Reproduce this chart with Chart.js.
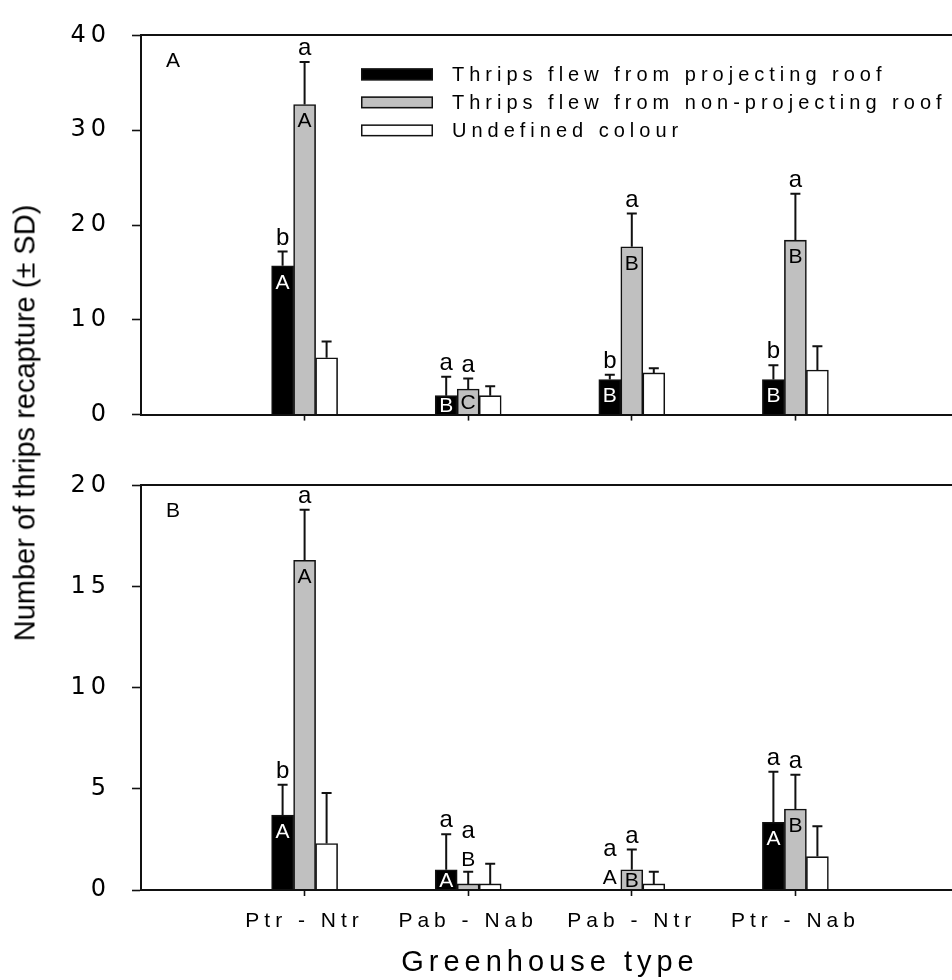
<!DOCTYPE html>
<html lang="en">
<head>
  <meta charset="UTF-8" />
  <title>Thrips recapture by greenhouse type</title>
  <script src="https://cdn.jsdelivr.net/npm/chart.js"></script>
  <style>
    body { margin: 0; width: 952px; height: 980px; overflow: hidden; background: #fff; position: relative; }
    canvas { position: absolute; left: 0; }
    #ytitle {
      position: absolute; left: 25px; top: 423px; z-index: 2;
      transform: translate(-50%, -50%) rotate(-90deg);
      font: 29px "Liberation Sans", Arial, sans-serif; color: #000; white-space: nowrap;
    }
  </style>
</head>
<body>
  <div id="ytitle">Number of thrips recapture (± SD)</div>
  <canvas id="chartA" width="960" height="450" style="top:0"></canvas>
  <canvas id="chartB" width="960" height="530" style="top:450px"></canvas>

  <script>
    const categories = ['Ptr - Ntr', 'Pab - Nab', 'Pab - Ntr', 'Ptr - Nab'];
    const seriesNames = ['Thrips flew from projecting roof', 'Thrips flew from non-projecting roof', 'Undefined colour'];
    const seriesColors = ['#000000', '#c0c0c0', '#ffffff'];

    // panel A
    const aProjecting = [15.7, 2.0, 3.7, 3.7];
    const aNonProjecting = [32.7, 2.7, 17.7, 18.4];
    const aUndefined = [6.0, 2.0, 4.4, 4.7];
    const aProjectingSD = [1.5, 2.0, 0.5, 1.5];
    const aNonProjectingSD = [4.5, 1.1, 3.5, 4.9];
    const aUndefinedSD = [1.7, 1.0, 0.5, 2.5];
    const aLowerProjecting = ['b', 'a', 'b', 'b'];
    const aLowerNonProjecting = ['a', 'a', 'a', 'a'];
    const aUpperProjecting = ['A', 'B', 'B', 'B'];
    const aUpperNonProjecting = ['A', 'C', 'B', 'B'];
    const aTicks = [0, 10, 20, 30, 40];

    // panel B
    const bProjecting = [3.7, 1.0, 0, 3.35];
    const bNonProjecting = [16.3, 0.3, 1.0, 4.0];
    const bUndefined = [2.3, 0.3, 0.3, 1.65];
    const bProjectingSD = [1.5, 1.75, 0, 2.5];
    const bNonProjectingSD = [2.5, 0.6, 1.0, 1.7];
    const bUndefinedSD = [2.5, 1.0, 0.6, 1.5];
    const bLowerProjecting = ['b', 'a', 'a', 'a'];
    const bLowerNonProjecting = ['a', 'a', 'a', 'a'];
    const bUpperProjecting = ['A', 'A', 'A', 'A'];
    const bUpperNonProjecting = ['A', 'B', 'B', 'B'];
    const bTicks = [0, 5, 10, 15, 20];

    const FONT = '"Liberation Sans", Arial, sans-serif';

    function barSet(i, values, sd, lower, upper) {
      return {
        label: seriesNames[i],
        data: values.map((v, k) => ({ x: k + 1, y: v })),
        sd: sd, lower: lower, upper: upper,
        backgroundColor: seriesColors[i],
        borderColor: '#111',
        borderWidth: 1.6,
        barThickness: 22
      };
    }

    // error bars, letters, legend, panel letter
    const marksPlugin = {
      id: 'marks',
      beforeLayout(chart) { chart.ctx.letterSpacing = '5px'; },
      beforeDraw(chart) { chart.ctx.letterSpacing = '5px'; },
      afterDatasetsDraw(chart, args, opts) {
        const ctx = chart.ctx;
        const y = chart.scales.y;
        const area = chart.chartArea;
        const base = y.getPixelForValue(0);
        ctx.save();
        ctx.letterSpacing = '0px';
        ctx.strokeStyle = '#111';
        ctx.lineWidth = 2;
        ctx.textAlign = 'center';

        chart.data.datasets.forEach((ds, di) => {
          const meta = chart.getDatasetMeta(di);
          meta.data.forEach((bar, i) => {
            const v = ds.data[i].y;
            const sd = ds.sd[i];
            const top = y.getPixelForValue(v);
            const errTop = y.getPixelForValue(v + sd);
            if (sd > 0) {
              ctx.beginPath();
              ctx.moveTo(bar.x, top);
              ctx.lineTo(bar.x, errTop);
              ctx.moveTo(bar.x - 5, errTop);
              ctx.lineTo(bar.x + 5, errTop);
              ctx.stroke();
            }
            const up = ds.upper ? ds.upper[i] : '';
            const low = ds.lower ? ds.lower[i] : '';
            let lowBase = errTop - 7;
            if (up) {
              ctx.font = '21px ' + FONT;
              ctx.textBaseline = 'middle';
              if (base - top >= 16) {
                ctx.fillStyle = di === 0 ? '#fff' : '#000';
                ctx.fillText(up, bar.x, Math.min(top + 17, (top + base) / 2 + 1));
              } else {
                const upY = (sd > 0 ? errTop : top) - 12;
                ctx.fillStyle = '#000';
                ctx.fillText(up, bar.x, upY);
                lowBase = upY - 22;
              }
            }
            if (low) {
              ctx.font = '24px ' + FONT;
              ctx.textBaseline = 'alphabetic';
              ctx.fillStyle = '#000';
              ctx.fillText(low, bar.x, lowBase);
            }
          });
        });

        // panel letter
        ctx.font = '21px ' + FONT;
        ctx.textAlign = 'left';
        ctx.textBaseline = 'middle';
        ctx.fillStyle = '#000';
        ctx.fillText(opts.panel, area.left + 25, area.top + 26);

        if (opts.legend) {
          ctx.font = '20px ' + FONT;
          ctx.letterSpacing = '5px';
          ctx.lineWidth = 1.5;
          chart.data.datasets.forEach((ds, di) => {
            const cy = area.top + 39 + di * 28;
            const bx = area.left + 220;
            ctx.fillStyle = ds.backgroundColor;
            ctx.fillRect(bx, cy - 6, 72, 12);
            ctx.strokeRect(bx + 0.75, cy - 5.25, 70.5, 10.5);
            ctx.fillStyle = '#000';
            ctx.fillText(ds.label, bx + 91, cy + 1);
          });
        }
        ctx.restore();
      }
    };

    function makeChart(id, sets, yMax, yTicks, panel, isTop) {
      return new Chart(document.getElementById(id), {
        type: 'bar',
        data: { datasets: sets },
        plugins: [marksPlugin],
        options: {
          responsive: false,
          animation: false,
          layout: { padding: { top: isTop ? 20 : 28, left: 0, right: 1, bottom: 0 } },
          plugins: {
            legend: { display: false },
            tooltip: { enabled: false },
            marks: { panel: panel, legend: isTop }
          },
          scales: {
            x: {
              type: 'linear',
              min: 0, max: 5,
              offset: false,
              afterBuildTicks: s => { s.ticks = categories.map((c, k) => ({ value: k + 1 })); },
              afterFit: s => { s.height = isTop ? 21 : 90; },
              grid: { display: true, drawOnChartArea: false, offset: false, tickLength: 6, tickColor: '#111', tickWidth: 1.6 },
              border: { display: true, color: '#111', width: 2, z: 1 },
              ticks: {
                display: !isTop,
                padding: 13,
                color: '#000',
                font: { family: FONT, size: 21 },
                maxRotation: 0,
                autoSkip: false,
                callback: v => categories[v - 1]
              },
              title: {
                display: !isTop,
                text: 'Greenhouse type',
                color: '#000',
                font: { family: FONT, size: 29 },
                padding: { top: 0, bottom: 0 }
              }
            },
            xTop: {
              type: 'linear',
              position: 'top',
              min: 0, max: 5,
              afterFit: s => { s.height = 0; },
              grid: { display: false, drawTicks: false },
              ticks: { display: false },
              border: { display: true, color: '#111', width: 2, z: 1 }
            },
            y: {
              min: 0, max: yMax,
              afterBuildTicks: s => { s.ticks = yTicks.map(v => ({ value: v })); },
              afterFit: s => { s.width = 141; },
              grid: { display: true, drawOnChartArea: false, tickLength: 9, tickColor: '#111', tickWidth: 1.6 },
              border: { display: true, color: '#111', width: 2, z: 1 },
              ticks: {
                padding: 21,
                color: '#000',
                font: { family: '"DejaVu Sans", sans-serif', size: 24 }
              }
            }
          }
        }
      });
    }

    makeChart('chartA', [
      barSet(0, aProjecting, aProjectingSD, aLowerProjecting, aUpperProjecting),
      barSet(1, aNonProjecting, aNonProjectingSD, aLowerNonProjecting, aUpperNonProjecting),
      barSet(2, aUndefined, aUndefinedSD, null, null)
    ], 40, aTicks, 'A', true);

    makeChart('chartB', [
      barSet(0, bProjecting, bProjectingSD, bLowerProjecting, bUpperProjecting),
      barSet(1, bNonProjecting, bNonProjectingSD, bLowerNonProjecting, bUpperNonProjecting),
      barSet(2, bUndefined, bUndefinedSD, null, null)
    ], 20, bTicks, 'B', false);
  </script>
</body>
</html>
